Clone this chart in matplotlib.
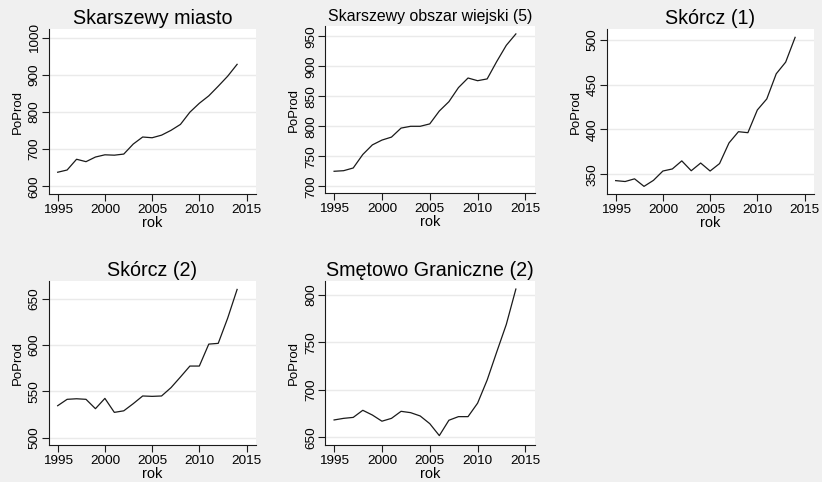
import numpy as np
import matplotlib
matplotlib.use('Agg')
import matplotlib.pyplot as plt

plt.rcParams['font.family'] = ['Liberation Sans', 'DejaVu Sans']

years = list(range(1995, 2015))

titles = ['Skarszewy miasto', 'Skarszewy obszar wiejski (5)', 'Skórcz (1)',
          'Skórcz (2)', 'Smętowo Graniczne (2)']

skarszewy_miasto = [638, 644, 673, 666.5, 679, 685, 684, 687, 714, 733,
                    731, 738, 751, 767, 800, 824, 844, 870, 897, 929]
skarszewy_wiejski = [725, 726, 730.5, 753, 769, 777, 782, 797, 800, 800,
                     804, 825.5, 841, 864.5, 880.5, 876, 879, 908, 935, 954]
skorcz_1 = [343, 342, 345, 336.6, 343.3, 353.7, 356, 365, 354, 362.6,
            353.7, 362, 385, 397.5, 396.4, 421.7, 434, 462, 475, 502.6]
skorcz_2 = [534.5, 541.4, 542, 541.4, 531.3, 542.4, 527.3, 529, 536.7, 545,
            544.6, 545, 554, 565.5, 577.3, 577.3, 601, 601.8, 629, 660]
smetowo = [668.3, 670, 671, 678.5, 673.5, 667, 670, 677.4, 676, 672.5,
           664.4, 651.8, 668, 671.8, 671.8, 686, 710.4, 740, 769, 806.3]

series = [skarszewy_miasto, skarszewy_wiejski, skorcz_1, skorcz_2, smetowo]
yticks = [[600, 700, 800, 900, 1000],
          [700, 750, 800, 850, 900, 950],
          [350, 400, 450, 500],
          [500, 550, 600, 650],
          [650, 700, 750, 800]]
ylims = [(579.3, 1024.3), (688.3, 967.2), (328.1, 511.9),
         (492.1, 669.1), (641.9, 814.8)]
xticks = [1995, 2000, 2005, 2010, 2015]

# panel boxes in pixels: left, top, right, bottom
W, H = 822, 482
boxes = [(48.7, 29, 256, 194), (325, 26, 535, 193.3), (606.7, 29, 814, 194),
         (48.7, 281, 256, 445), (325, 281, 535, 445)]
title_sizes = [14.2, 11.4, 14.2, 14.2, 14.2]

fig = plt.figure(figsize=(W / 100, H / 100), dpi=100, facecolor='#f0f0f0')

for i in range(5):
    l, t, r, b = boxes[i]
    ax = fig.add_axes([l / W, 1 - b / H, (r - l) / W, (b - t) / H])
    ax.set_facecolor('white')
    ax.plot(years, series[i], color='#1a1a1a', lw=0.9)
    ax.set_xlim(1994.05, 2016.0)
    ax.set_ylim(*ylims[i])
    ax.set_xticks(xticks)
    ax.set_yticks(yticks[i])
    ax.set_yticklabels([str(v) for v in yticks[i]], rotation=90, va='center')
    ax.grid(axis='y', color='#eaeaea', lw=1.0)
    ax.set_axisbelow(True)
    for s in ['top', 'right']:
        ax.spines[s].set_visible(False)
    for s in ['left', 'bottom']:
        ax.spines[s].set_color('#1a1a1a')
        ax.spines[s].set_linewidth(0.8)
    ax.tick_params(axis='both', length=4.7, width=0.8, color='#1a1a1a',
                   labelsize=9.7, labelcolor='black')
    ax.tick_params(axis='x', pad=2.6)
    ax.tick_params(axis='y', pad=1.0)
    ax.set_xlabel('rok', fontsize=10.5, labelpad=0)
    ax.set_ylabel('PoProd', fontsize=9.5, labelpad=3.5)
    ax.set_title(titles[i], fontsize=title_sizes[i], pad=3.4)

fig.savefig('out.png', dpi=100, facecolor=fig.get_facecolor())
